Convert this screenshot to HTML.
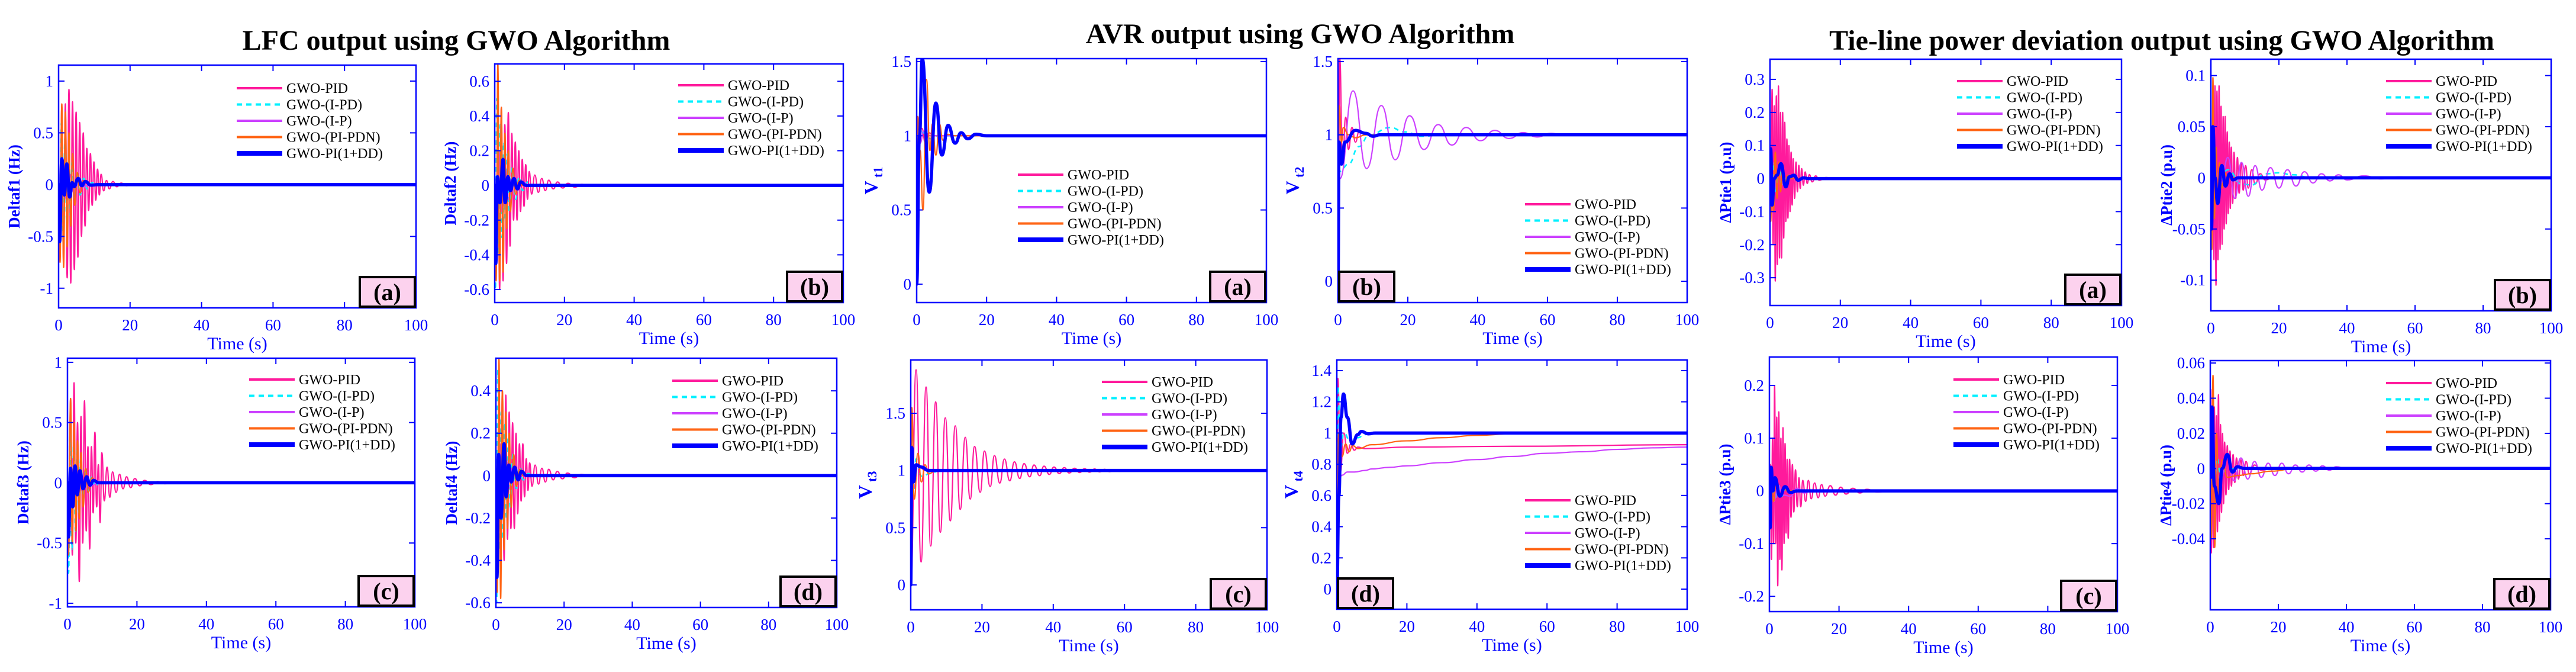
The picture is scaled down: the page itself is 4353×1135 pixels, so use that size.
<!DOCTYPE html>
<html><head><meta charset="utf-8"><style>
html,body{margin:0;padding:0;background:#fff;}
svg{display:block;font-family:"Liberation Serif",serif;}
</style></head><body>
<svg id="fig" width="4353" height="1135" viewBox="0 0 4353 1135" xmlns="http://www.w3.org/2000/svg">
<rect width="4353" height="1135" fill="#fff"/>
<text x="771" y="84" text-anchor="middle" font-size="48" font-weight="bold">LFC output using GWO Algorithm</text>
<text x="2197" y="73" text-anchor="middle" font-size="48" font-weight="bold">AVR output using GWO Algorithm</text>
<text x="3653" y="84" text-anchor="middle" font-size="48" font-weight="bold">Tie-line power deviation output using GWO Algorithm</text>
</svg>
<script>
// ---- data (time s, value) ----
const xTicks=[0,20,40,60,80,100];
const seriesNames=["GWO-PID","GWO-(I-PD)","GWO-(I-P)","GWO-(PI-PDN)","GWO-PI(1+DD)"];
const lfcA_pid=[[0,0],[0.4,-0.6],[0.9,0.75],[1.4,-0.75],[1.9,0.78],[2.4,-0.9],[2.9,0.92],[3.4,-0.95],[3.9,0.8],[4.4,-0.82],[4.9,0.7],[5.4,-0.7],[5.9,0.6],[6.4,-0.5],[6.9,0.5],[7.4,-0.4],[7.9,0.35],[8.4,-0.25],[8.9,0.3],[9.4,-0.2],[9.9,0.22],[10.4,-0.15],[10.9,0.15],[11.4,-0.1],[11.9,0.1],[12.6,-0.06],[13.4,0.04],[14.2,-0.04],[15.2,0.03],[16.3,-0.02],[17.5,0.015],[19,-0.01],[21,0.008],[23,-0.005],[26,0],[100,0]];
const lfcA_ipd=[[0,0],[0.3,-0.7],[0.8,0.6],[1.3,-0.5],[1.8,0.45],[2.3,-0.4],[2.8,0.3],[3.3,-0.3],[3.8,0.22],[4.5,-0.18],[5.2,0.12],[6,-0.1],[7,0.06],[8,-0.04],[9.5,0.02],[11,0],[100,0]];
const lfcA_ip=[[0,0],[0.6,-0.25],[1.3,0.2],[2.2,-0.15],[3.2,0.1],[4.2,-0.07],[5.5,0.04],[7,-0.02],[9,0],[100,0]];
const lfcA_pipdn=[[0,0],[0.4,-0.75],[0.9,0.78],[1.4,-0.8],[1.9,0.7],[2.4,-0.6],[2.9,0.5],[3.4,-0.4],[3.9,0.3],[4.5,-0.2],[5.2,0.12],[6,-0.08],[7,0.04],[8.5,0],[100,0]];
const lfcA_blue=[[0,0],[0.3,-0.55],[0.9,0.25],[1.6,-0.1],[2.3,0.2],[3.1,-0.12],[3.8,0.02],[4.3,-0.02],[5.5,0.06],[6.5,-0.01],[7.5,0.03],[9,-0.005],[11,0],[100,0]];
const lfcB_pid=[[0,0],[0.4,-0.45],[0.9,0.5],[1.4,-0.6],[1.9,0.45],[2.4,-0.55],[2.9,0.35],[3.4,-0.45],[3.9,0.42],[4.4,-0.35],[4.9,0.3],[5.4,-0.2],[5.9,0.25],[6.4,-0.2],[6.9,0.2],[7.4,-0.15],[7.9,0.15],[8.4,-0.12],[8.9,0.12],[9.4,-0.08],[9.9,0.08],[10.6,-0.05],[11.5,0.06],[12.5,-0.04],[13.5,0.04],[14.5,-0.03],[15.5,0.03],[16.8,-0.02],[18,0.02],[19.5,-0.015],[21,0.012],[23,-0.01],[25,0.006],[28,-0.003],[32,0],[100,0]];
const lfcB_ipd=[[0,0],[0.2,-0.6],[0.6,0.5],[1.1,-0.4],[1.6,0.35],[2.1,-0.3],[2.6,0.25],[3.1,-0.2],[3.6,0.18],[4.2,-0.15],[5,0.1],[6,-0.08],[7,0.05],[8,-0.03],[9.5,0.02],[11,0],[100,0]];
const lfcB_ip=[[0,0],[0.5,-0.2],[1.2,0.2],[2,-0.15],[3,0.1],[4,-0.08],[5,0.05],[6.5,-0.03],[8,0.02],[10,0],[100,0]];
const lfcB_pipdn=[[0,0],[0.4,-0.55],[0.9,0.7],[1.4,-0.55],[1.9,0.45],[2.4,-0.5],[2.9,0.3],[3.4,-0.25],[3.9,0.2],[4.5,-0.15],[5.2,0.1],[6,-0.05],[7,0.03],[8,0],[100,0]];
const lfcB_blue=[[0,0],[0.3,-0.45],[0.8,0.05],[1.5,-0.1],[2.4,0.15],[3,-0.1],[3.8,0.05],[4.5,-0.03],[5.5,0.04],[6.5,-0.02],[7.5,0.02],[9,0],[100,0]];
const lfcC_pid=[[0,0],[0.4,-0.5],[0.9,0.7],[1.4,-0.6],[1.9,0.83],[2.4,-0.5],[2.9,0.5],[3.4,-0.82],[3.9,0.55],[4.4,-0.5],[4.9,0.68],[5.4,-0.4],[5.9,0.3],[6.4,-0.55],[6.9,0.3],[7.4,-0.25],[7.9,0.42],[8.4,-0.2],[8.9,0.15],[9.4,-0.33],[9.9,0.25],[10.6,-0.15],[11.4,0.13],[12.2,-0.12],[13,0.09],[14,-0.08],[15,0.07],[16,-0.05],[17,0.05],[18.2,-0.04],[19.4,0.035],[20.8,-0.025],[22.2,0.02],[24,-0.015],[26,0.01],[28,-0.008],[31,0.005],[35,0],[100,0]];
const lfcC_ipd=[[0,0],[0.3,-0.75],[0.8,0.45],[1.3,-0.55],[1.8,0.35],[2.3,-0.4],[2.8,0.3],[3.3,-0.25],[3.8,0.2],[4.5,-0.15],[5.2,0.12],[6,-0.08],[7,0.05],[8,-0.03],[9.5,0.02],[11,0],[100,0]];
const lfcC_ip=[[0,0],[0.6,-0.3],[1.3,0.2],[2.2,-0.15],[3.2,0.1],[4.2,-0.07],[5.5,0.04],[7,-0.02],[9,0],[100,0]];
const lfcC_pipdn=[[0,0],[0.3,-0.6],[0.9,0.7],[1.4,-0.5],[1.9,0.5],[2.4,-0.4],[2.9,0.35],[3.4,-0.3],[3.9,0.25],[4.5,-0.2],[5.2,0.12],[6,-0.08],[7,0.04],[8.5,0],[100,0]];
const lfcC_blue=[[0,0],[0.3,-0.45],[0.9,0.12],[1.5,-0.2],[2.2,0.14],[2.8,-0.1],[3.6,0.1],[4.5,-0.05],[5.5,0.05],[6.5,-0.02],[7.5,0.02],[9,0],[100,0]];
const lfcD_pid=[[0,0],[0.4,-0.3],[0.9,0.45],[1.4,-0.45],[1.9,0.4],[2.4,-0.4],[2.9,0.38],[3.4,-0.3],[3.9,0.3],[4.4,-0.25],[4.9,0.25],[5.4,-0.25],[5.9,0.2],[6.4,-0.18],[6.9,0.15],[7.4,-0.12],[7.9,0.15],[8.4,-0.1],[8.9,0.08],[9.4,-0.07],[9.9,0.06],[10.6,-0.05],[11.5,0.05],[12.5,-0.04],[13.5,0.035],[14.5,-0.03],[15.5,0.03],[16.8,-0.02],[18,0.02],[19.5,-0.015],[21,0.012],[23,-0.01],[25,0.006],[28,-0.003],[32,0],[100,0]];
const lfcD_ipd=[[0,0],[0.2,-0.6],[0.6,0.5],[1.1,-0.35],[1.6,0.3],[2.1,-0.3],[2.6,0.25],[3.1,-0.2],[3.6,0.18],[4.2,-0.15],[5,0.1],[6,-0.06],[7,0.04],[8,-0.02],[9.5,0.01],[11,0],[100,0]];
const lfcD_ip=[[0,0],[0.5,-0.2],[1.2,0.15],[2,-0.12],[3,0.08],[4,-0.06],[5,0.04],[6.5,-0.02],[8,0.01],[10,0],[100,0]];
const lfcD_pipdn=[[0,0],[0.4,-0.55],[0.9,0.55],[1.4,-0.58],[1.9,0.4],[2.4,-0.35],[2.9,0.3],[3.4,-0.25],[3.9,0.2],[4.5,-0.15],[5.2,0.1],[6,-0.05],[7,0.03],[8,0],[100,0]];
const lfcD_blue=[[0,0],[0.3,-0.48],[0.8,0.1],[1.5,-0.2],[2.4,0.15],[3,-0.1],[3.8,0.05],[4.5,-0.03],[5.5,0.04],[6.5,-0.02],[7.5,0.02],[9,0],[100,0]];
const avrA_pid=[[0,0],[0.5,0.9],[1.5,1.05],[2.5,0.95],[3.5,1.02],[5,1],[100,1]];
const avrA_ipd=[[0,0],[1,1.05],[2,1.02],[4,0.98],[6,1],[100,1]];
const avrA_ip=[[0,0],[1,0.95],[2,1.03],[4,1],[100,1]];
const avrA_pipdn=[[0,0],[0.3,1.13],[1,0.9],[1.8,0.5],[2.8,1.38],[3.8,0.9],[4.5,1.08],[5.5,0.87],[6.5,1.08],[7.5,0.97],[9,1.01],[11,1],[100,1]];
const avrA_blue=[[0,0],[0.8,1.0],[1.6,1.52],[3.6,0.62],[5.5,1.22],[7.2,0.87],[9,1.07],[11,0.95],[12.7,1.02],[14.6,0.98],[17,1.01],[20,1],[100,1]];
const avrB_pid=[[0,0],[0.5,1.52],[1.3,0.8],[2.2,1.12],[3,0.9],[4,1.05],[5,0.95],[6,1.02],[8,1],[100,1]];
const avrB_ipd=[[0,0],[0.5,0.75],[3,0.8],[6,0.92],[9,1.0],[15,1.05],[19,1.02],[24,0.99],[30,1],[100,1]];
const avrB_ip=[[0,0],[0.5,0.7],[4.3,1.3],[8.2,0.77],[12.4,1.2],[16.4,0.83],[20.5,1.13],[24.6,0.9],[28.7,1.07],[32.6,0.93],[36.7,1.05],[40.8,0.96],[44.9,1.03],[49,0.975],[53,1.015],[57,0.985],[61,1.01],[65,0.995],[69,1.005],[75,1],[100,1]];
const avrB_pipdn=[[0,0],[0.3,1.2],[1,0.95],[1.5,1.05],[3,1.0],[5,0.98],[8,1],[100,1]];
const avrB_blue=[[0,0],[0.3,0.95],[1,0.8],[2,0.95],[5,1.03],[8,1.01],[10,0.99],[12,1],[100,1]];
const avrC_pid=[[0,0],[1.5,1.88],[2.9,0.2],[4.3,1.73],[5.6,0.34],[7.0,1.6],[8.3,0.46],[9.7,1.46],[11.1,0.56],[12.5,1.39],[13.9,0.66],[15.3,1.29],[16.7,0.75],[17.9,1.21],[19.5,0.81],[20.7,1.17],[22.3,0.86],[23.5,1.13],[25,0.89],[26.3,1.1],[27.8,0.91],[29.1,1.076],[30.6,0.93],[31.8,1.06],[33.4,0.945],[34.6,1.048],[36.2,0.955],[37.4,1.038],[38.9,0.966],[40.2,1.03],[41.7,0.973],[43.1,1.025],[44.5,0.978],[46,1.02],[47.4,0.982],[48.8,1.016],[50.2,0.985],[51.6,1.013],[53,0.988],[54.4,1.01],[55.8,0.99],[57.2,1.008],[58.6,0.992],[60,1.006],[65,1],[100,1]];
const avrC_ipd=[[0,0],[0.2,1.35],[0.8,0.8],[1.5,1.1],[3,0.95],[6,0.98],[8,1],[100,1]];
const avrC_ip=[[0,0],[0.3,1.2],[1,0.85],[2,1.05],[4,1],[100,1]];
const avrC_pipdn=[[0,0],[0.3,1.55],[1,0.75],[2,1.15],[3,0.9],[4,1.05],[5,0.97],[7,1],[100,1]];
const avrC_blue=[[0,0],[0.3,1.2],[0.8,0.9],[1.5,1.05],[3,1.03],[5,1],[100,1]];
const avrD_pid=[[0,0],[0.3,1.35],[1,0.75],[2,1.0],[3,0.87],[4,0.93],[5,0.89],[6,0.91],[8,0.9],[20,0.91],[50,0.915],[100,0.925]];
const avrD_ipd=[[0,0],[0.3,1.3],[1,0.9],[2,1.0],[4,0.94],[6,0.97],[8,0.99],[10,1],[100,1]];
const avrD_ip=[[0,0],[0.5,0.7],[1.5,0.73],[3,0.75],[5,0.75],[8,0.76],[10,0.77],[15,0.78],[20,0.79],[30,0.81],[40,0.83],[50,0.85],[60,0.87],[70,0.88],[80,0.895],[90,0.905],[100,0.91]];
const avrD_pipdn=[[0,0],[0.5,1.0],[1.5,0.85],[2.5,0.93],[3.5,0.88],[4.5,0.92],[6,0.9],[10,0.925],[20,0.95],[30,0.97],[40,0.985],[50,0.995],[60,1],[100,1]];
const avrD_blue=[[0,0],[0.6,0.6],[1.2,1.1],[1.9,1.25],[3,1.1],[4.4,0.93],[6,0.99],[7,1.01],[9,0.995],[11,1],[100,1]];
const tieA_pid=[[0,0],[0.3,-0.1],[0.6,0.27],[0.9,-0.2],[1.2,0.22],[1.5,-0.31],[1.8,0.25],[2.1,-0.26],[2.4,0.28],[2.7,-0.24],[3,0.2],[3.3,-0.24],[3.6,0.2],[3.9,-0.18],[4.2,0.17],[4.5,-0.13],[4.8,0.12],[5.1,-0.12],[5.4,0.1],[5.7,-0.1],[6,0.08],[6.3,-0.08],[6.6,0.06],[7,-0.06],[7.4,0.05],[7.8,-0.04],[8.2,0.04],[8.6,-0.03],[9,0.03],[9.5,-0.02],[10,0.02],[10.6,-0.015],[11.2,0.012],[12,-0.01],[13,0.008],[14,-0.005],[16,0.003],[18,0],[100,0]];
const tieA_ipd=[[0,0],[0.3,-0.05],[0.8,0.05],[1.5,-0.04],[2.5,0.03],[3.5,-0.02],[5,0.01],[7,0],[100,0]];
const tieA_ip=[[0,0],[0.5,0.03],[1.2,-0.03],[2.2,0.02],[3.5,-0.01],[5,0],[100,0]];
const tieA_pipdn=[[0,0],[0.2,-0.13],[0.6,0.05],[1,-0.1],[1.5,0.08],[2,-0.06],[2.5,0.05],[3,-0.04],[3.5,0.03],[4.2,-0.02],[5,0.01],[6,0],[100,0]];
const tieA_blue=[[0,0],[0.2,0.09],[0.6,-0.08],[1.2,0],[2,0.01],[3.1,0.045],[4.5,-0.025],[5.5,0.005],[6.8,0.01],[8,-0.005],[9.5,0.002],[11,0],[100,0]];
const tieB_pid=[[0,0],[0.3,-0.06],[0.6,0.07],[0.9,-0.08],[1.2,0.09],[1.5,-0.105],[1.8,0.085],[2.1,-0.08],[2.4,0.09],[2.7,-0.07],[3,0.07],[3.3,-0.065],[3.6,0.06],[3.9,-0.05],[4.2,0.06],[4.5,-0.045],[4.8,0.045],[5.1,-0.035],[5.4,0.035],[5.7,-0.03],[6,0.03],[6.4,-0.025],[6.8,0.025],[7.3,-0.02],[7.8,0.02],[8.3,-0.015],[8.9,0.015],[9.5,-0.012],[10.2,0.012],[11,-0.01],[12,0.008],[13,-0.006],[14.5,0.004],[16,-0.002],[18,0],[100,0]];
const tieB_ipd=[[0,0],[0.5,0.02],[2,-0.01],[5,0.008],[9,-0.006],[12,-0.007],[16,0.004],[20,0.005],[24,0.003],[30,0],[100,0]];
const tieB_ip=[[0,0],[1,0.01],[3,-0.005],[5,0.02],[7,-0.02],[9,0.015],[11,-0.018],[13,0.012],[15,-0.012],[17.5,0.01],[20,-0.01],[22.5,0.008],[25,-0.008],[27.5,0.006],[30,-0.005],[32.5,0.004],[35,-0.003],[37.5,0.003],[40,-0.002],[45,0.002],[50,-0.001],[55,0.001],[60,0],[100,0]];
const tieB_pipdn=[[0,0],[0.3,-0.07],[0.6,0.098],[1,-0.04],[1.5,0.03],[2,-0.02],[2.5,0.015],[3.2,-0.01],[4,0.005],[5,0],[100,0]];
const tieB_blue=[[0,0],[0.2,-0.05],[0.6,0.05],[1.2,0],[2,-0.025],[3.2,0.012],[4.3,-0.008],[5.5,0.004],[6.5,-0.002],[8,0],[100,0]];
const tieC_pid=[[0,0],[0.3,0.05],[0.6,-0.13],[0.9,0.1],[1.2,-0.1],[1.5,0.2],[1.8,-0.1],[2.1,0.14],[2.4,-0.18],[2.7,0.15],[3,-0.13],[3.3,0.1],[3.6,-0.15],[3.9,0.12],[4.2,-0.1],[4.5,0.09],[4.8,-0.08],[5.1,0.06],[5.4,-0.09],[5.8,0.06],[6.2,-0.05],[6.6,0.05],[7,-0.04],[7.5,0.04],[8,-0.03],[8.5,0.025],[9,-0.03],[9.6,0.02],[10.4,-0.02],[11.2,0.02],[12,-0.015],[13,0.015],[14,-0.013],[15,0.012],[16,-0.01],[17.5,0.01],[19,-0.008],[20.5,0.007],[22,-0.006],[24,0.005],[26,-0.004],[28,0.003],[31,-0.002],[35,0],[100,0]];
const tieC_ipd=[[0,0],[0.3,-0.04],[0.8,0.03],[1.5,-0.02],[2.5,0.015],[3.5,-0.01],[5,0.005],[7,0],[100,0]];
const tieC_ip=[[0,0],[0.5,0.01],[1.2,-0.02],[2.5,0.01],[4,-0.008],[6,-0.01],[8,0.005],[10,-0.004],[12,0],[100,0]];
const tieC_pipdn=[[0,0],[0.2,-0.04],[0.6,0.03],[1.2,-0.02],[2,0.025],[3,-0.01],[4,0.005],[5,0],[100,0]];
const tieC_blue=[[0,0],[0.2,-0.07],[0.5,0.045],[1,0],[1.6,0.025],[3,-0.01],[4.5,0.008],[6,-0.003],[8,0],[100,0]];
const tieD_pid=[[0,0],[0.3,-0.048],[0.6,0.045],[0.9,-0.045],[1.2,0.035],[1.5,-0.04],[1.8,0.03],[2.1,-0.036],[2.4,0.042],[2.7,-0.03],[3,0.025],[3.3,-0.025],[3.6,0.02],[3.9,-0.02],[4.2,0.015],[4.6,-0.015],[5,0.013],[5.4,-0.012],[5.8,0.01],[6.2,-0.01],[6.7,0.008],[7.2,-0.008],[7.7,0.006],[8.3,-0.006],[9,0.005],[9.7,-0.004],[10.5,0.004],[11.5,-0.003],[13,0.002],[15,-0.001],[18,0],[100,0]];
const tieD_ipd=[[0,0],[0.2,-0.02],[0.6,0.012],[1.2,-0.01],[2,0.006],[3,-0.003],[5,0],[100,0]];
const tieD_ip=[[0,0],[1,0.005],[3,-0.006],[5,0.006],[7,-0.007],[9,0.006],[11,-0.006],[13,0.004],[15,-0.005],[17,0.003],[19,-0.004],[21,0.003],[23,-0.003],[25,0.002],[27,-0.002],[29,0.002],[31,-0.0015],[33,0.0015],[35,-0.001],[37,0.001],[40,0],[100,0]];
const tieD_pipdn=[[0,0],[0.3,-0.04],[0.8,0.053],[1.3,-0.045],[1.8,0.02],[2.5,-0.015],[3.5,0.005],[5,-0.005],[8,-0.004],[12,-0.003],[18,-0.0015],[25,0],[100,0]];
const tieD_blue=[[0,0],[0.2,-0.005],[0.5,0.035],[1.2,-0.01],[2.5,-0.02],[3.5,0],[5,0.008],[6.5,-0.002],[8,0.001],[10,0],[100,0]];
const lfcABTicks=[-1,-0.5,0,0.5,1];
const lfcBTicks=[-0.6,-0.4,-0.2,0,0.2,0.4,0.6];
const lfcDTicks=[-0.6,-0.4,-0.2,0,0.2,0.4];
const avrTicks=[0,0.5,1,1.5];
const avrDTicks=[0,0.2,0.4,0.6,0.8,1,1.2,1.4];
const tieATicks=[-0.3,-0.2,-0.1,0,0.1,0.2,0.3];
const tieBTicks=[-0.1,-0.05,0,0.05,0.1];
const tieCTicks=[-0.2,-0.1,0,0.1,0.2];
const tieDTicks=[-0.04,-0.02,0,0.02,0.04,0.06];

// ---- layout ----
const panels=[
 {id:"lfc-a",x0:99,x1:703,y0:110,y1:520,ymin:-1.19,ymax:1.154,ticks:lfcABTicks,lab:"(a)",box:"r",yl:["Deltaf1 (Hz)"],lg:[400,149],s:[lfcA_pid,lfcA_ipd,lfcA_ip,lfcA_pipdn,lfcA_blue]},
 {id:"lfc-b",x0:836,x1:1425,y0:108,y1:511,ymin:-0.675,ymax:0.70,ticks:lfcBTicks,lab:"(b)",box:"r",yl:["Deltaf2 (Hz)"],lg:[1146,144],s:[lfcB_pid,lfcB_ipd,lfcB_ip,lfcB_pipdn,lfcB_blue]},
 {id:"avr-a",x0:1549,x1:2140,y0:99,y1:511,ymin:-0.124,ymax:1.52,ticks:avrTicks,lab:"(a)",box:"r",yl:["V","t1"],lg:[1720,295],s:[avrA_pid,avrA_ipd,avrA_ip,avrA_pipdn,avrA_blue]},
 {id:"avr-b",x0:2261,x1:2851,y0:99,y1:511,ymin:-0.145,ymax:1.52,ticks:avrTicks,lab:"(b)",box:"l",yl:["V","t2"],lg:[2577,345],s:[avrB_pid,avrB_ipd,avrB_ip,avrB_pipdn,avrB_blue]},
 {id:"tie-a",x0:2991,x1:3585,y0:100,y1:516,ymin:-0.384,ymax:0.361,ticks:tieATicks,lab:"(a)",box:"r",yl:["ΔPtie1 (p.u)"],lg:[3307,137],s:[tieA_pid,tieA_ipd,tieA_ip,tieA_pipdn,tieA_blue]},
 {id:"tie-b",x0:3736,x1:4311,y0:100,y1:525,ymin:-0.130,ymax:0.116,ticks:tieBTicks,lab:"(b)",box:"r",yl:["ΔPtie2 (p.u)"],lg:[4032,137],s:[tieB_pid,tieB_ipd,tieB_ip,tieB_pipdn,tieB_blue]},
 {id:"lfc-c",x0:114,x1:701,y0:605,y1:1025,ymin:-1.03,ymax:1.034,ticks:lfcABTicks,lab:"(c)",box:"r",yl:["Deltaf3 (Hz)"],lg:[421,641],s:[lfcC_pid,lfcC_ipd,lfcC_ip,lfcC_pipdn,lfcC_blue]},
 {id:"lfc-d",x0:838,x1:1414,y0:605,y1:1026,ymin:-0.622,ymax:0.554,ticks:lfcDTicks,lab:"(d)",box:"r",yl:["Deltaf4 (Hz)"],lg:[1136,643],s:[lfcD_pid,lfcD_ipd,lfcD_ip,lfcD_pipdn,lfcD_blue]},
 {id:"avr-c",x0:1539,x1:2141,y0:608,y1:1030,ymin:-0.218,ymax:1.966,ticks:avrTicks,lab:"(c)",box:"r",yl:["V","t3"],lg:[1862,645],s:[avrC_pid,avrC_ipd,avrC_ip,avrC_pipdn,avrC_blue]},
 {id:"avr-d",x0:2259,x1:2851,y0:608,y1:1029,ymin:-0.129,ymax:1.468,ticks:avrDTicks,lab:"(d)",box:"l",yl:["V","t4"],lg:[2577,845],s:[avrD_pid,avrD_ipd,avrD_ip,avrD_pipdn,avrD_blue]},
 {id:"tie-c",x0:2990,x1:3578,y0:603,y1:1033,ymin:-0.229,ymax:0.254,ticks:tieCTicks,lab:"(c)",box:"r",yl:["ΔPtie3 (p.u)"],lg:[3301,641],s:[tieC_pid,tieC_ipd,tieC_ip,tieC_pipdn,tieC_blue]},
 {id:"tie-d",x0:3735,x1:4310,y0:609,y1:1030,ymin:-0.0804,ymax:0.0614,ticks:tieDTicks,lab:"(d)",box:"r",yl:["ΔPtie4 (p.u)"],lg:[4032,647],s:[tieD_pid,tieD_ipd,tieD_ip,tieD_pipdn,tieD_blue]}
];
const styles=[
 {c:"#ff1a9c",w:2.2,lw:4,d:null},
 {c:"#00f0ff",w:2.6,lw:4,d:"8,7"},
 {c:"#cc40ff",w:2.2,lw:4,d:null},
 {c:"#ff6414",w:2.2,lw:4,d:null},
 {c:"#0000ff",w:5.5,lw:8,d:null}
];
const keys=["pid","ipd","ip","pipdn","pi-1-dd"];
const NS="http://www.w3.org/2000/svg";
const svg=document.getElementById("fig");
function mk(tag,at,parent){const e=document.createElementNS(NS,tag);for(const k in at)e.setAttribute(k,at[k]);(parent||svg).appendChild(e);return e;}
function fmt(v){let s=String(+v.toFixed(3));return s.replace("0.","0.").replace(/^-0\./,"-0.");}

panels.forEach((p,pi)=>{
 const g=mk("g",{});
 
 
 const sx=t=>p.x0+(t-0)/(100-0)*(p.x1-p.x0);
 const sy=v=>p.y1-(v-p.ymin)/(p.ymax-p.ymin)*(p.y1-p.y0);
 const cid="clip"+pi;
 const cp=mk("clipPath",{id:cid},g);
 mk("rect",{x:p.x0,y:p.y0,width:p.x1-p.x0,height:p.y1-p.y0},cp);
 // series
 const sg=mk("g",{"clip-path":"url(#"+cid+")"},g);
 p.s.forEach((arr,si)=>{
  const st=styles[si];
  let d="M"+sx(arr[0][0]).toFixed(2)+","+sy(arr[0][1]).toFixed(2);
  for(let i=1;i<arr.length;i++){
   const xa=sx(arr[i-1][0]),ya=sy(arr[i-1][1]),xb=sx(arr[i][0]),yb=sy(arr[i][1]);
   const h=(xb-xa)/2;
   d+=" C"+(xa+h).toFixed(2)+","+ya.toFixed(2)+" "+(xb-h).toFixed(2)+","+yb.toFixed(2)+" "+xb.toFixed(2)+","+yb.toFixed(2);
  }
  const path=mk("path",{d:d,fill:"none",stroke:st.c,"stroke-width":st.w,"stroke-linejoin":"round"},sg);
  if(st.d)path.setAttribute("stroke-dasharray",st.d);
  
  
 });
 // axes box
 const box=mk("rect",{x:p.x0,y:p.y0,width:p.x1-p.x0,height:p.y1-p.y0,fill:"none",stroke:"#0000ff","stroke-width":2.5},g);
 
 
 // x ticks
 xTicks.forEach(t=>{
  const x=sx(t);
  mk("line",{x1:x,x2:x,y1:p.y1,y2:p.y1-10,stroke:"#0000ff","stroke-width":2},g);
  mk("line",{x1:x,x2:x,y1:p.y0,y2:p.y0+10,stroke:"#0000ff","stroke-width":2},g);
  const tx=mk("text",{x:x,y:p.y1+38,"text-anchor":"middle","font-size":27,fill:"#0000ff"},g);
  tx.textContent=t;
  
  
 });
 // y ticks
 p.ticks.forEach(v=>{
  const y=sy(v);
  mk("line",{x1:p.x0,x2:p.x0+10,y1:y,y2:y,stroke:"#0000ff","stroke-width":2},g);
  mk("line",{x1:p.x1,x2:p.x1-10,y1:y,y2:y,stroke:"#0000ff","stroke-width":2},g);
  const ty=mk("text",{x:p.x0-9,y:y+9,"text-anchor":"end","font-size":27,fill:"#0000ff"},g);
  ty.textContent=fmt(v);
  
  
 });
 // x label
 const xl=mk("text",{x:(p.x0+p.x1)/2,y:p.y1+70,"text-anchor":"middle","font-size":30,fill:"#0000ff"},g);
 xl.textContent="Time (s)";
 
 
 // y label
 const cy=(p.y0+p.y1)/2;
 if(p.yl.length===1){
  const lx=p.x0-66;
  const yt=mk("text",{x:lx,y:cy,"text-anchor":"middle","font-size":27,"font-weight":"bold",fill:"#0000ff",transform:"rotate(-90 "+lx+" "+cy+")"},g);
  yt.textContent=p.yl[0];
  
  
 }else{
  const lx=p.x0-66;
  const yt=mk("text",{x:lx,y:cy,"text-anchor":"middle","font-size":32,"font-weight":"bold",fill:"#0000ff",transform:"rotate(-90 "+lx+" "+cy+")"},g);
  
  
  const a=mk("tspan",{},yt);a.textContent=p.yl[0];
  const b=mk("tspan",{dy:8,"font-size":22},yt);b.textContent=" "+p.yl[1];
 }
 // legend
 const lg=mk("g",{},g);
 
 
 seriesNames.forEach((nm,si)=>{
  const st=styles[si];
  const y=p.lg[1]+si*27.5;
  const e=mk("g",{},lg);
  
  
  const ln=mk("line",{x1:p.lg[0],x2:p.lg[0]+77,y1:y,y2:y,stroke:st.c,"stroke-width":st.lw},e);
  if(st.d)ln.setAttribute("stroke-dasharray","9,7");
  const t=mk("text",{x:p.lg[0]+84,y:y+8,"font-size":24,fill:"#000"},e);
  t.textContent=nm;
 });
 // panel label box
 const bw=97,bh=54;
 const bx=p.box==="r"?p.x1-bw:p.x0;
 const by=p.y1-bh;
 const lb=mk("g",{},g);
 
 
 mk("rect",{x:bx+2,y:by+2,width:bw-4,height:bh-4,fill:"#fcd2ee",stroke:"#000","stroke-width":4},lb);
 const lt=mk("text",{x:bx+bw/2,y:by+bh/2+14,"text-anchor":"middle","font-size":40,"font-weight":"bold",fill:"#000"},lb);
 lt.textContent=p.lab;
});
</script>
</body></html>
